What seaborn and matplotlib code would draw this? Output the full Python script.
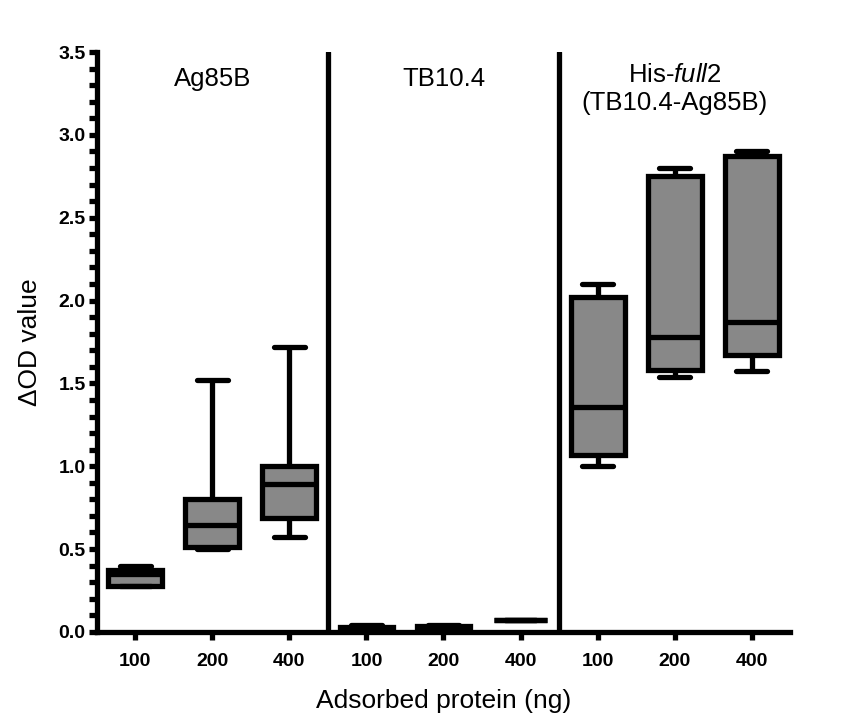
import pandas as pd
import seaborn as sns
import matplotlib.pyplot as plt
from matplotlib.ticker import MultipleLocator

# Daten: Fünf-Punkte-Zusammenfassung je Gruppe
proteins = ['Ag85B', 'TB10.4', 'His-full2']
doses = ['100', '200', '400']
mins = [0.28, 0.50, 0.57, 0.01, 0.02, 0.07, 1.00, 1.54, 1.575]
q1s = [0.28, 0.51, 0.69, 0.01, 0.025, 0.07, 1.07, 1.58, 1.67]
medians = [0.35, 0.645, 0.89, 0.02, 0.03, 0.07, 1.36, 1.78, 1.87]
q3s = [0.375, 0.80, 1.00, 0.03, 0.035, 0.07, 2.02, 2.75, 2.87]
maxs = [0.40, 1.52, 1.72, 0.04, 0.04, 0.07, 2.10, 2.80, 2.90]

groups = [p + ' ' + d for p in proteins for d in doses]
rows = []
for i, g in enumerate(groups):
    for v in (mins[i], q1s[i], medians[i], q3s[i], maxs[i]):
        rows.append({'group': g, 'od': v})
df = pd.DataFrame(rows)

sns.set_style('ticks')
plt.rcParams['font.family'] = ['Liberation Sans', 'DejaVu Sans']
plt.rcParams['mathtext.fontset'] = 'custom'
plt.rcParams['mathtext.rm'] = 'Liberation Sans'
plt.rcParams['mathtext.it'] = 'Liberation Sans:italic'
for key in ('text.color', 'axes.labelcolor', 'xtick.color', 'ytick.color', 'axes.edgecolor'):
    plt.rcParams[key] = 'black'

fig = plt.figure(figsize=(8.57, 7.23), dpi=100)
ax = fig.add_axes([0.113, 0.126, 0.809, 0.802])

lw = 3.8
sns.boxplot(data=df, x='group', y='od', order=groups, whis=(0, 100),
            color='#888888', saturation=1, linecolor='black', linewidth=lw,
            width=0.7, capwidths=0.4, ax=ax)

# Trennlinien zwischen den Proteinen
for xs in (2.5, 5.5):
    ax.axvline(xs, color='black', lw=lw)

ax.set_xlim(-0.5, 8.5)
ax.set_ylim(0, 3.5)
ax.yaxis.set_major_locator(MultipleLocator(0.5))
ax.yaxis.set_minor_locator(MultipleLocator(0.1))
ax.set_yticklabels([f'{t:.1f}' for t in ax.get_yticks()])
ax.set_xticks(range(9))
ax.set_xticklabels(doses * 3)
for lab in ax.get_xticklabels() + ax.get_yticklabels():
    lab.set_fontweight('bold')
    lab.set_fontsize(14)
ax.tick_params(axis='both', which='both', width=lw, length=6, pad=2, colors='black')
ax.tick_params(axis='x', pad=9)

for side in ('top', 'right'):
    ax.spines[side].set_visible(False)
for side in ('left', 'bottom'):
    ax.spines[side].set_linewidth(lw)
    ax.spines[side].set_color('black')

ax.set_ylabel('ΔOD value', fontsize=19, labelpad=12, color='black')
ax.set_xlabel('Adsorbed protein (ng)', fontsize=19, labelpad=14, color='black')

# Gruppentitel
ax.text(1, 3.34, 'Ag85B', ha='center', va='center', fontsize=18.5, color='black')
ax.text(4, 3.34, 'TB10.4', ha='center', va='center', fontsize=18.5, color='black')
ax.text(7, 3.36, r'His-$\it{full}$2', ha='center', va='center', fontsize=18.5, color='black')
ax.text(7, 3.19, '(TB10.4-Ag85B)', ha='center', va='center', fontsize=18.5, color='black')

fig.savefig('out.png', dpi=100)
